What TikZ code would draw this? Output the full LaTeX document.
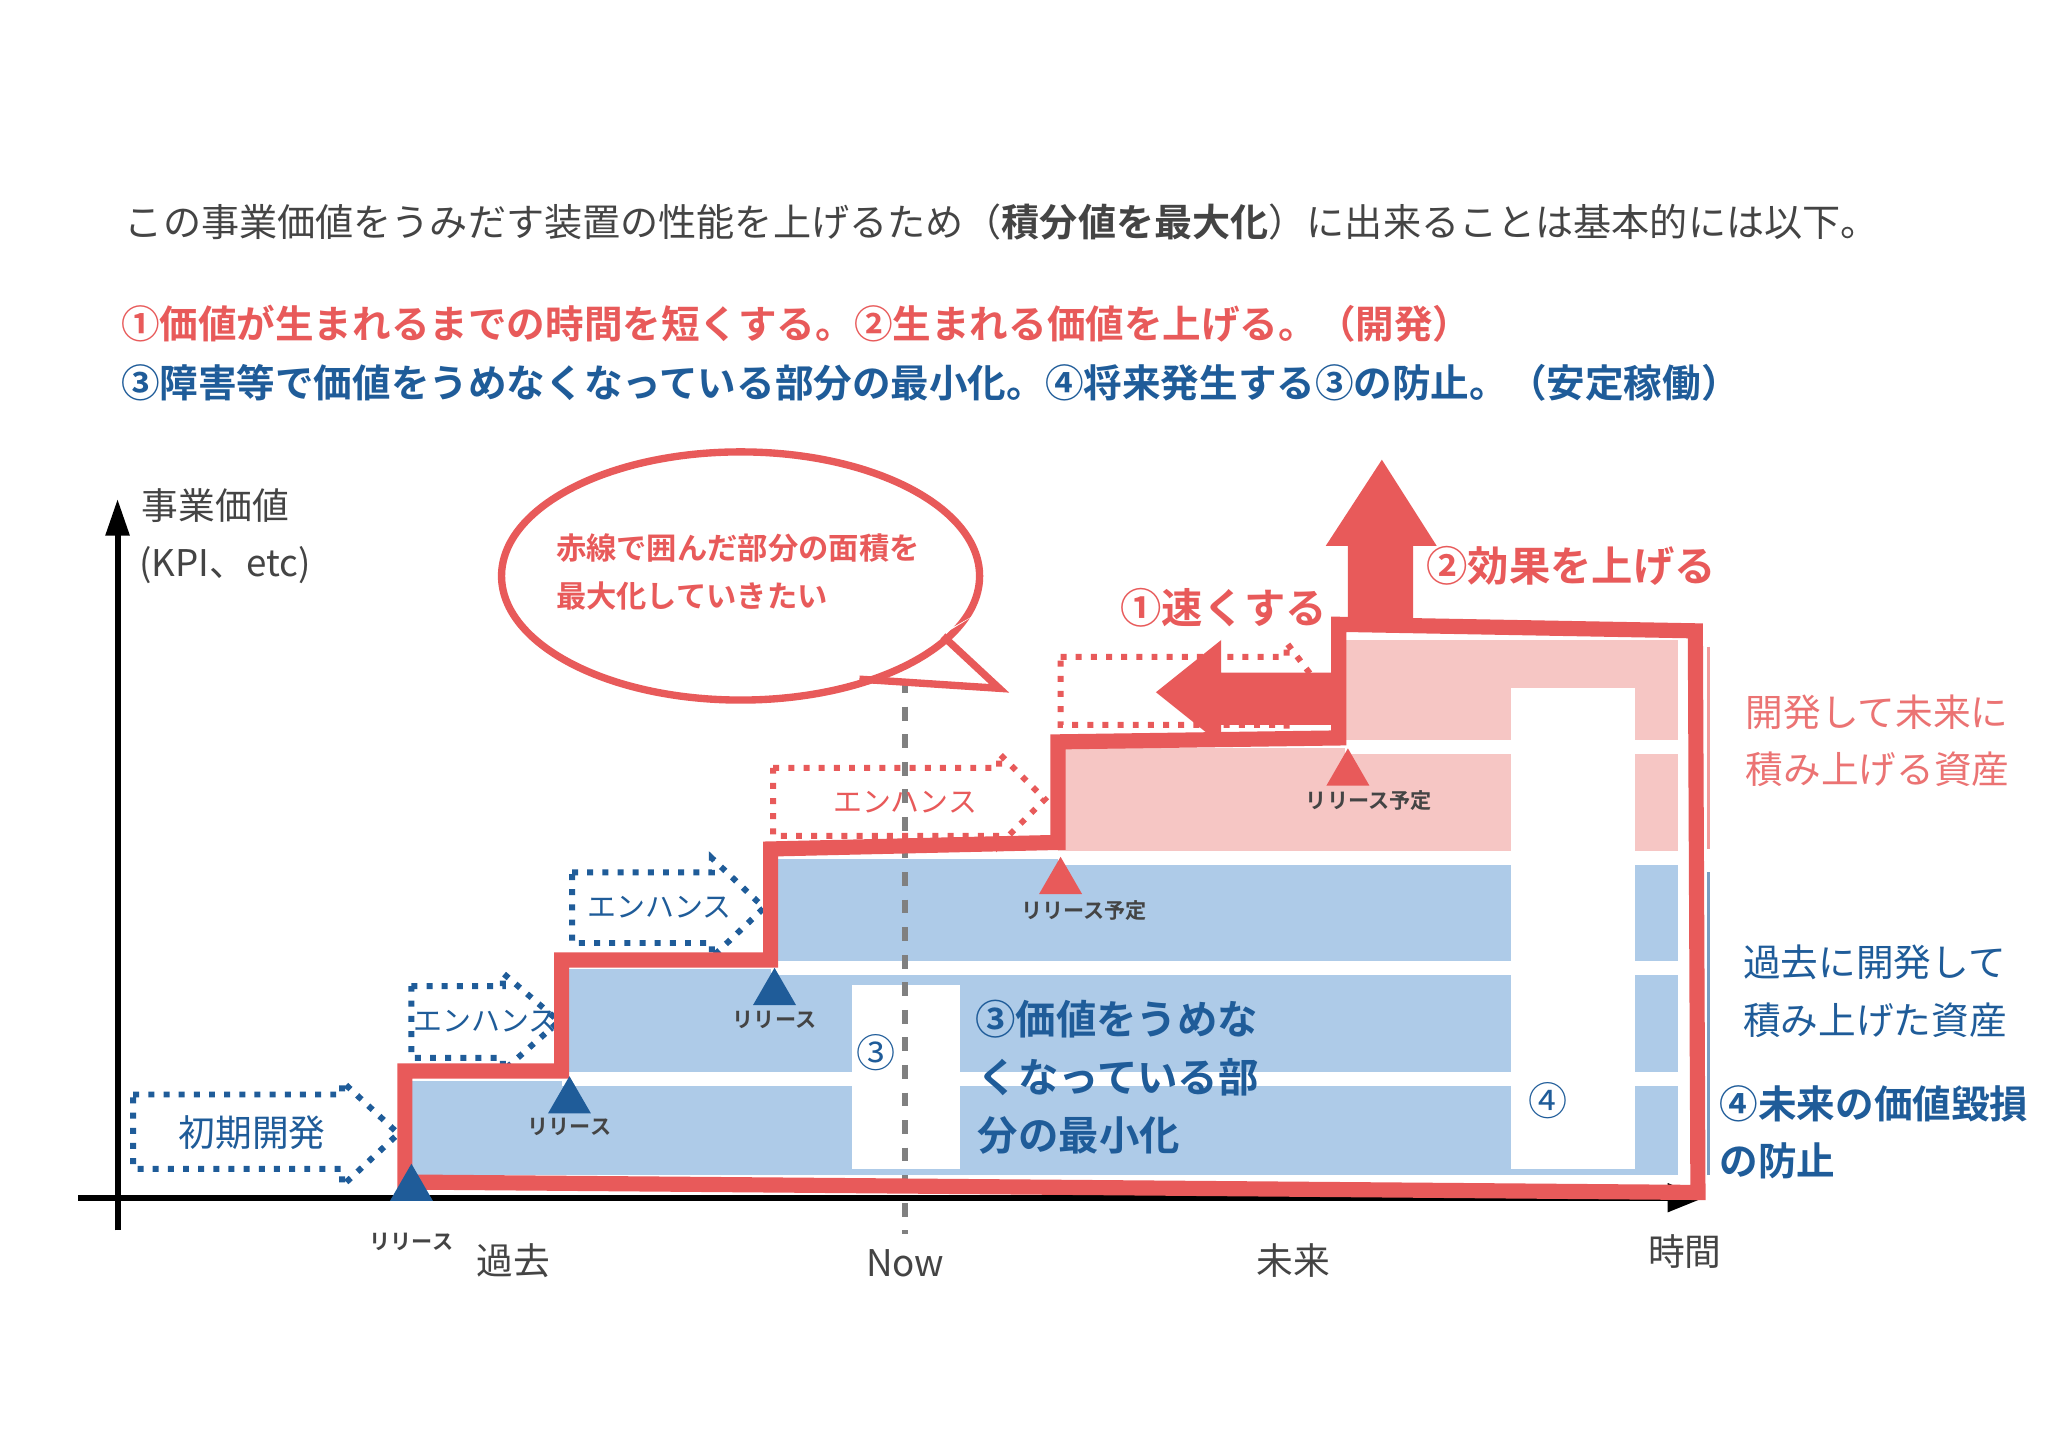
\documentclass[tikz,border=0pt]{standalone}
\usepackage{fontspec}
\setmainfont{Noto Sans CJK JP}
\newfontfamily\cjkb{Noto Sans CJK JP Bold}
\usetikzlibrary{arrows.meta,shapes.geometric}
\definecolor{myred}{HTML}{E85A5A}
\definecolor{myblue}{HTML}{1F5C99}
\definecolor{lblue}{HTML}{AECBE8}
\definecolor{lpink}{HTML}{F6C6C4}
\definecolor{txtgray}{HTML}{444444}
\tikzset{
 t/.style={inner sep=0pt,font=\fontsize{8pt}{9pt}\selectfont},
 tb/.style={inner sep=0pt,font=\fontsize{8.4pt}{9pt}\cjkb},
 sm/.style={inner sep=0pt,font=\fontsize{4.6pt}{5pt}\cjkb,text=txtgray},
 dotarrow/.style={dotted,line width=1.3pt},
 rel/.style={regular polygon,regular polygon sides=3,minimum size=0.38cm,inner sep=0pt},
}
\begin{document}
\begin{tikzpicture}[x=0.01cm,y=-0.01cm]
\useasboundingbox (0,0) rectangle (1568,1107);
\fill[white] (0,0) rectangle (1568,1107);
% header text
\node[t,anchor=west,text=txtgray,font=\fontsize{8.3pt}{9pt}\selectfont] (h1) at (95,170) {この事業価値をうみだす装置の性能を上げるため（{\cjkb 積分値を最大化}）に出来ることは基本的には以下。};
\node[tb,anchor=west,text=myred] (h2) at (92,248) {①価値が生まれるまでの時間を短くする。②生まれる価値を上げる。（開発）};
\node[tb,anchor=west,text=myblue] (h3) at (92,293) {③障害等で価値をうめなくなっている部分の最小化。④将来発生する③の防止。（安定稼働）};
% areas
\fill[lblue] (310,828) rectangle (430,900);
\fill[lblue] (430,742) rectangle (590,900);
\fill[lblue] (590,658) rectangle (1285,900);
\fill[lpink] (810,573) rectangle (1285,656);
\fill[lpink] (1030,490) rectangle (1285,572);
\draw[white,line width=3pt] (430,826)--(1285,826) (590,741)--(1285,741) (810,657)--(1285,657) (1030,572)--(1285,572);
\fill[white] (652,754) rectangle (735,895);
\fill[white] (1157,527) rectangle (1252,895);
% axes
\coordinate (xs) at (60,917); \coordinate (xe) at (1305,917);
\coordinate (ys) at (90,942); \coordinate (ye) at (90,382);
\draw[line width=1.3pt,-{Triangle[length=8pt,width=6pt]}] (xs)--(xe);
\draw[line width=1.3pt,-{Triangle[length=8pt,width=5pt]}] (ys)--(ye);
\node[t,anchor=west,text=txtgray] (yl1) at (108,387) {事業価値};
\node[t,anchor=west,text=txtgray] (yl2) at (106,433) {(KPI、etc)};
% now line
\coordinate (n1) at (693,520); \coordinate (n2) at (693,945);
\draw[dashed,gray,line width=1.2pt] (n1)--(n2);
\node[t,text=txtgray] (now) at (693,967) {Now};
\node[t,text=txtgray] (past) at (393,965) {過去};
\node[t,text=txtgray] (fut) at (990,965) {未来};
\node[t,text=txtgray] (time) at (1290,958) {時間};
% dotted arrows
\draw[dotarrow,myblue] (102,838)--(262,838)--(262,828)--(305,868)--(262,908)--(262,895)--(102,895)--cycle;
\node[t,text=myblue] (a1) at (193,867) {初期開発};
\draw[dotarrow,myblue] (315,755)--(385,755)--(385,745)--(428,782)--(385,820)--(385,810)--(315,810)--cycle;
\node[t,text=myblue,font=\fontsize{6.3pt}{7pt}\selectfont] (a2) at (372,782) {エンハンス};
\draw[dotarrow,myblue] (438,668)--(545,668)--(545,657)--(585,695)--(545,733)--(545,722)--(438,722)--cycle;
\node[t,text=myblue,font=\fontsize{6.3pt}{7pt}\selectfont] (a3) at (505,695) {エンハンス};
\draw[dotarrow,myred] (592,588)--(765,588)--(765,577)--(800,612)--(765,647)--(765,640)--(592,640)--cycle;
\node[t,text=myred,font=\fontsize{6.3pt}{7pt}\selectfont] (a4) at (693,614) {エンハンス};
\draw[dotarrow,myred] (812,503)--(985,503)--(985,492)--(1010,525)--(985,558)--(985,555)--(812,555)--cycle;
% red outline
\draw[myred,line width=3.3pt,line join=miter]
 (310,820)--(430,820)--(430,735)--(590,735)--(590,650)--(810,645)--(810,568)--(1025,565)--(1025,478)--(1298,483)--(1300,913)--(310,905)--cycle;
% up arrow
\fill[myred] (1032,482)--(1032,418)--(1015,418)--(1058,352)--(1100,418)--(1082,418)--(1082,482)--cycle;
% left arrow
\fill[myred] (1020,515)--(935,515)--(935,490)--(885,530)--(935,570)--(935,555)--(1020,555)--cycle;
\node[tb,text=myred,font=\fontsize{9pt}{10pt}\cjkb] (fast) at (937,465) {①速くする};
\node[tb,text=myred,font=\fontsize{9pt}{10pt}\cjkb] (eff) at (1203,433) {②効果を上げる};
% releases
\node[rel,fill=myblue] (r1) at (315,910) {};
\node[sm] (r1l) at (315,951) {リリース};
\node[rel,fill=myblue] (r2) at (436,843) {};
\node[sm] (r2l) at (436,863) {リリース};
\node[rel,fill=myblue] (r3) at (593,760) {};
\node[sm] (r3l) at (593,781) {リリース};
\node[rel,fill=myred] (r4) at (812,675) {};
\node[sm] (r4l) at (830,697) {リリース予定};
\node[rel,fill=myred] (r5) at (1032,592) {};
\node[sm] (r5l) at (1048,613) {リリース予定};
% bubble
\fill[white] (567,441) ellipse [x radius=183,y radius=95];
\fill[white] (690,495)--(765,527)--(655,522)--cycle;
\draw[myred,line width=1.6pt] (567,441) ellipse [x radius=183,y radius=95];
\fill[white] (694,500)--(748,470)--(720,487)--(660,518)--cycle;
\draw[myred,line width=1.6pt] (722,487)--(765,527)--(658,520);
\node[tb,anchor=west,text=myred,font=\fontsize{6.6pt}{7pt}\cjkb] (b1) at (425,420) {赤線で囲んだ部分の面積を};
\node[tb,anchor=west,text=myred,font=\fontsize{6.6pt}{7pt}\cjkb] (b2) at (425,456) {最大化していきたい};
% ③ ④
\node[t,text=myblue,font=\fontsize{8.5pt}{9pt}\selectfont] (c3) at (671,806) {③};
\node[tb,anchor=west,text=myblue,font=\fontsize{8.8pt}{9pt}\cjkb] (c3a) at (746,780) {③価値をうめな};
\node[tb,anchor=west,text=myblue,font=\fontsize{8.8pt}{9pt}\cjkb] (c3b) at (748,825) {くなっている部};
\node[tb,anchor=west,text=myblue,font=\fontsize{8.8pt}{9pt}\cjkb] (c3c) at (748,869) {分の最小化};
\node[t,text=myblue,font=\fontsize{8.5pt}{9pt}\selectfont] (c4) at (1185,843) {④};
% right side
\coordinate (br1) at (1308,495); \coordinate (br2) at (1308,650);
\coordinate (bb1) at (1308,668); \coordinate (bb2) at (1308,900);
\draw[myred!60,line width=0.8pt] (br1)--(br2);
\draw[myblue!60,line width=0.8pt] (bb1)--(bb2);
\node[t,anchor=west,text=myred!85,font=\fontsize{8.2pt}{9pt}\selectfont] (p1) at (1336,545) {開発して未来に};
\node[t,anchor=west,text=myred!85,font=\fontsize{8.2pt}{9pt}\selectfont] (p2) at (1336,589) {積み上げる資産};
\node[t,anchor=west,text=myblue,font=\fontsize{8.2pt}{9pt}\selectfont] (q1) at (1334,737) {過去に開発して};
\node[t,anchor=west,text=myblue,font=\fontsize{8.2pt}{9pt}\selectfont] (q2) at (1334,781) {積み上げた資産};
\node[tb,anchor=west,text=myblue,font=\fontsize{8.4pt}{9pt}\cjkb] (q3) at (1316,845) {④未来の価値毀損};
\node[tb,anchor=west,text=myblue,font=\fontsize{8.4pt}{9pt}\cjkb] (q4) at (1316,889) {の防止};
\end{tikzpicture}
\end{document}
